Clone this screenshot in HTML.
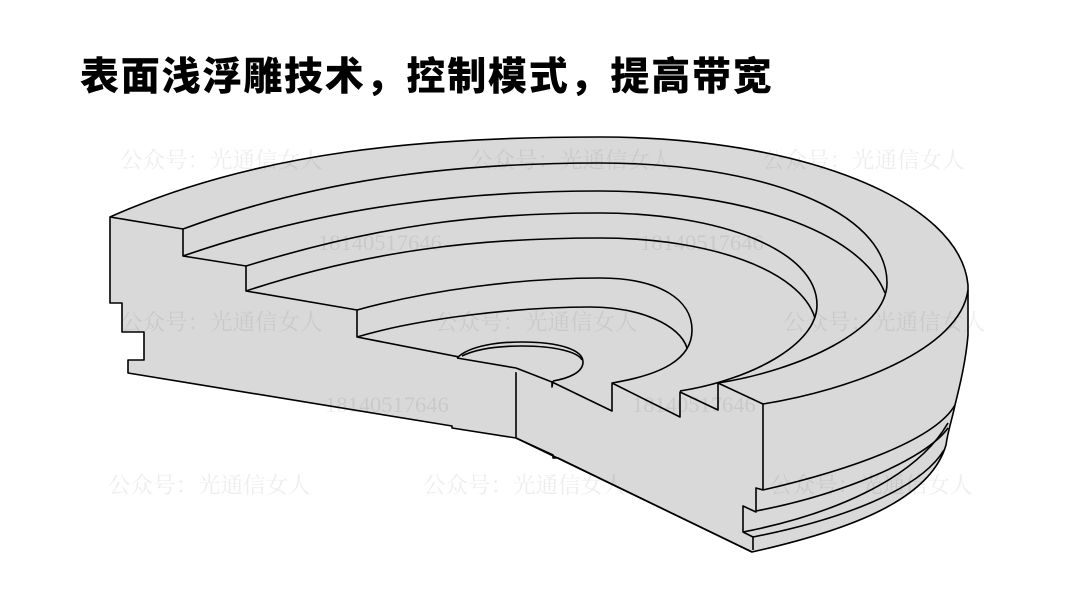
<!DOCTYPE html>
<html><head><meta charset="utf-8"><style>
html,body{margin:0;padding:0;background:#fff;}
body{width:1080px;height:608px;overflow:hidden;position:relative;}
.t{position:absolute;left:80px;top:46px;font-family:"Liberation Sans","Noto Sans CJK SC",sans-serif;font-weight:900;font-size:39px;letter-spacing:1.8px;color:#000;white-space:nowrap;}
svg{position:absolute;left:0;top:0;}
</style></head><body>
<div class="t">表面浅浮雕技术，控制模式，提高带宽</div>
<svg width="1080" height="608" viewBox="0 0 1080 608">
<g stroke="#000" stroke-width="1.6" fill="none" stroke-linejoin="round">
<path fill="#d9d9d9" d="M110,217 C260,150 430,137 600,137 C800,137 960,200 968,285 L968,335 C966,360 960,385 955,405 C952,420 948,430 946,445 C930,500 850,530 752,552 L516,438 L452,428 L452,426 L128,373 L128,360 L144,360 L144,332 L122,332 L122,303 L110,303 Z"/>
<path d="M183,229 C330,175 470,163 600,163 C760,163 887,210 887,283 C887,330 800,370 718,383"/>
<path d="M183,256 C330,205 470,191 600,191 C740,191 860,230 885,293"/>
<path d="M246,266 C380,225 480,213 600,213 C720,213 817,250 817,305 C817,345 750,380 680,391"/>
<path d="M246,291 C370,250 480,238 600,238 C710,238 800,270 815,318"/>
<path d="M357,310 C430,290 520,278 600,278 C660,278 692,300 692,330 C692,360 660,375 612,383"/>
<path d="M357,337 C420,318 520,307 590,307 C640,307 680,325 687,348"/>
<path d="M110,217 L183,229 L183,256 L246,266 L246,291 L357,310 L357,337 L516,368 L516,438"/>
<path fill="#d9d9d9" d="M457,358 C470,345 500,342 522,342 C560,342 583,350 583,362 C583,372 570,378 553,381"/>
<path d="M462,356 C478,348 500,346 522,346 C555,346 578,352 582,360"/>
<path d="M457,358 L516,368"/>
<path d="M516,368 L552,382 L552,387 L553,381 M552,382 L612,411 L612,383 L680,417 L680,392 L718,410 L718,383 L763,404 L763,490"/>
<path d="M763,404 C850,390 960,350 968,290"/>
<path d="M763,490 C850,470 935,440 955,405"/>
<path d="M763,490 L756,488 L756,512 L743,506 L743,532 L753,537 L753,550"/>
<path d="M756,511 C840,495 925,460 948,428"/>
<path d="M743,532 C830,515 915,480 948,423"/>
<path d="M753,537 C840,520 920,490 944,450"/>
<path d="M516,438 L553,455 L553,458 L558,458 L752,552"/>
</g>
<g font-size="22.5" fill="#000" fill-opacity="0.07" style="font-family:'Liberation Serif','Noto Serif CJK SC',serif">
<text x="120" y="168">公众号：光通信女人</text>
<text x="470" y="168">公众号：光通信女人</text>
<text x="762" y="168">公众号：光通信女人</text>
<text x="120" y="330">公众号：光通信女人</text>
<text x="435" y="330">公众号：光通信女人</text>
<text x="783" y="330">公众号：光通信女人</text>
<text x="108" y="493">公众号：光通信女人</text>
<text x="423" y="493">公众号：光通信女人</text>
<text x="770" y="493">公众号：光通信女人</text>
<text x="318" y="250">18140517646</text>
<text x="640" y="250">18140517646</text>
<text x="325" y="412">18140517646</text>
<text x="632" y="412">18140517646</text>
</g>
</svg>
</body></html>
